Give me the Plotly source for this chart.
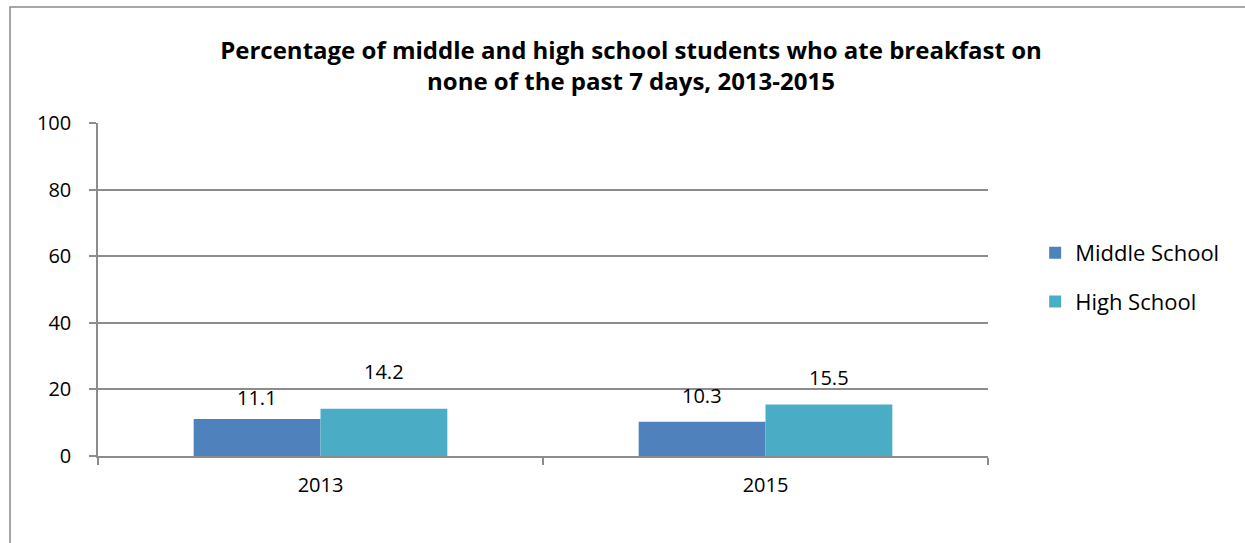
import plotly.graph_objects as go

# Survey years and percentages by school level
years = ["2013", "2015"]
middle_school = [11.1, 10.3]
high_school = [14.2, 15.5]
series_names = ["Middle School", "High School"]
series_colors = ["#4F81BD", "#4BACC6"]

# Extra vertical offset (px) of each value label above its bar
label_lift = {
    "Middle School": [22, 26],
    "High School": [37, 27],
}

title_text = ("Percentage of middle and high school students who ate breakfast on"
              "<br>none of the past 7 days, 2013-2015")

W, H = 1245, 543
margin = dict(l=98, r=257, t=123, b=87)
plot_w = W - margin["l"] - margin["r"]
plot_h = H - margin["t"] - margin["b"]
bargap = 0.43
grid_color = "#8c8c8c"
font_family = "Open Sans, Liberation Sans, sans-serif"

fig = go.Figure()
for name, vals, color in zip(series_names, [middle_school, high_school], series_colors):
    fig.add_trace(go.Bar(
        name=name, x=years, y=vals, marker_color=color,
        marker_line_width=0, legendgroup=name,
    ))

# Value labels above each bar, centred on the bar within its group
# (category axes take annotation x as the category's serial number)
cat_w = plot_w / len(years)
bar_w = cat_w * (1 - bargap) / len(series_names)
for si, (name, vals) in enumerate(zip(series_names, [middle_school, high_school])):
    dx = (si - (len(series_names) - 1) / 2) * bar_w
    for yi, v in enumerate(vals):
        fig.add_annotation(
            x=yi, y=v, xref="x", yref="y", text=f"{v}", showarrow=False,
            xshift=dx, yshift=label_lift[name][yi], yanchor="middle",
            font=dict(size=20, color="#000000", family=font_family),
        )

# Outer chart frame
fig.add_shape(
    type="rect", xref="paper", yref="paper",
    x0=(10 - margin["l"]) / plot_w, x1=(W + 20 - margin["l"]) / plot_w,
    y0=-(H + 20 - (H - margin["b"])) / plot_h, y1=(H - margin["b"] - 7) / plot_h,
    line=dict(color="#8a8a8a", width=1.5), layer="below",
)

fig.update_layout(
    width=W, height=H, margin=margin,
    paper_bgcolor="white", plot_bgcolor="white",
    barmode="group", bargap=bargap, bargroupgap=0,
    font=dict(family=font_family, color="#000000", size=20),
    title=dict(
        text=title_text, x=631 / W, xanchor="center", xref="container",
        y=1 - 59 / H, yanchor="middle", yref="container",
        font=dict(size=24, family=font_family, color="#000000", weight="bold"),
    ),
    xaxis=dict(
        type="category", range=[-0.5, len(years) - 0.5],
        showline=True, linecolor=grid_color, linewidth=1.5,
        ticks="outside", tickson="boundaries", ticklen=7, tickcolor=grid_color,
        tickwidth=1.5, showgrid=False, tickfont=dict(size=20),
        ticklabelstandoff=10,
    ),
    yaxis=dict(
        range=[0, 100], dtick=20, showgrid=True, gridcolor=grid_color,
        gridwidth=1.5, showline=True, linecolor=grid_color, linewidth=1.5,
        ticks="outside", ticklen=7, tickcolor=grid_color, tickwidth=1.5,
        tickfont=dict(size=20), zeroline=False, ticklabelstandoff=14,
    ),
    legend=dict(
        x=1.053, xanchor="left", y=0.536, yanchor="middle",
        font=dict(size=22), tracegroupgap=17, traceorder="grouped",
        bgcolor="rgba(0,0,0,0)",
    ),
    showlegend=True,
)

fig.write_html("out.html")
